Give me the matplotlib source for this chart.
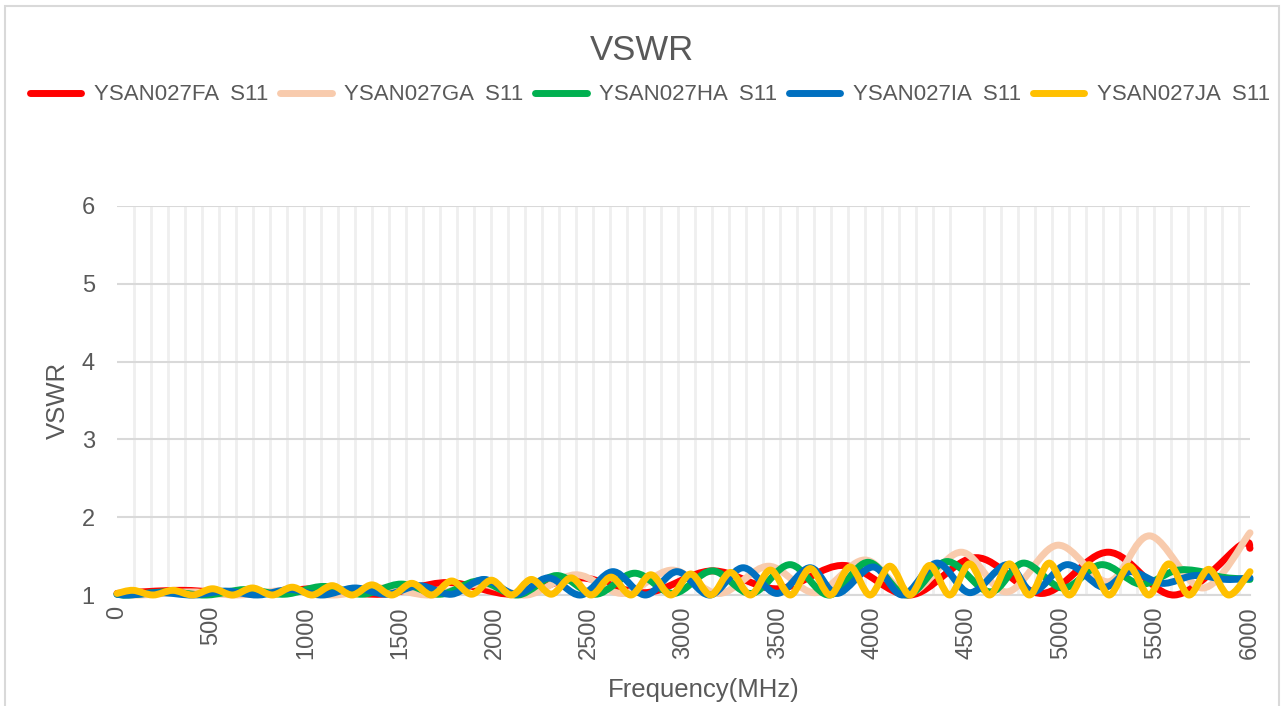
import matplotlib
matplotlib.use("Agg")
import matplotlib.pyplot as plt
import numpy as np
from matplotlib.path import Path
from matplotlib.patches import PathPatch, Rectangle
from matplotlib.lines import Line2D

plt.rcParams['font.family'] = ['Liberation Sans', 'DejaVu Sans']

# series names and colours
names = ["YSAN027FA  S11", "YSAN027GA  S11", "YSAN027HA  S11", "YSAN027IA  S11", "YSAN027JA  S11"]
colors = ["#FF0000", "#F8CBAD", "#00B050", "#0070C0", "#FFC000"]

# red - YSAN027FA (peaks / troughs)
fa_f = [0, 350, 700, 1050, 1400, 1750, 2100, 2450, 2800, 3150, 3500, 3850, 4200, 4550, 4900, 5250, 5600, 5950, 6000]
fa_v = [1.02, 1.06, 1.01, 1.08, 1.01, 1.16, 1.01, 1.22, 1.03, 1.31, 1.08, 1.38, 1.00, 1.48, 1.02, 1.55, 1.00, 1.64, 1.60]

# peach - YSAN027GA
ga_f = [0, 130, 390, 640, 900, 1150, 1410, 1660, 1920, 2170, 2430, 2680, 2940, 3190, 3450, 3700, 3960, 4200,
        4470, 4713, 4980, 5250, 5470, 5751, 6000]
ga_v = [1.01, 1.00, 1.04, 1.00, 1.06, 1.00, 1.09, 1.00, 1.14, 1.00, 1.26, 1.02, 1.32, 1.02, 1.37, 1.03, 1.45, 1.03,
        1.55, 1.04, 1.64, 1.17, 1.76, 1.09, 1.80]

# green - YSAN027HA
ha_f = [0, 63, 269, 475, 681, 887, 1093, 1299, 1505, 1711, 1917, 2123, 2329, 2535, 2741, 2947, 3153, 3359,
        3565, 3771, 3977, 4183, 4395, 4623, 4800, 5010, 5214, 5418, 5600, 5720, 5850, 6000]
ha_v = [1.01, 1.00, 1.04, 1.00, 1.07, 1.01, 1.11, 1.01, 1.14, 1.01, 1.18, 1.00, 1.25, 1.01, 1.28, 1.02, 1.31, 1.02,
        1.39, 1.00, 1.42, 1.00, 1.43, 1.04, 1.41, 1.09, 1.39, 1.14, 1.31, 1.31, 1.23, 1.20]

# blue - YSAN027IA
ia_f = [0, 62, 233, 404, 575, 746, 917, 1088, 1259, 1430, 1601, 1772, 1943, 2114, 2285, 2456, 2627, 2798,
        2966, 3140, 3315, 3495, 3670, 3813, 4004, 4162, 4342, 4517, 4713, 4851, 5031, 5222, 5364, 5535,
        5706, 5877, 6000]
ia_v = [1.01, 1.00, 1.03, 1.00, 1.05, 1.00, 1.07, 1.00, 1.09, 1.01, 1.12, 1.01, 1.20, 1.01, 1.22, 1.00, 1.30, 1.00,
        1.30, 1.00, 1.35, 1.02, 1.35, 1.02, 1.36, 1.00, 1.41, 1.03, 1.39, 1.04, 1.39, 1.10, 1.30, 1.15,
        1.25, 1.20, 1.22]

# yellow - YSAN027JA
ja_f = [0, 85, 190, 295, 401, 506, 612, 717, 823, 928, 1034, 1139, 1245, 1350, 1456, 1561, 1667, 1772, 1878,
        1983, 2089, 2194, 2300, 2405, 2511, 2616, 2722, 2827, 2933, 3038, 3144, 3249, 3355, 3460, 3566, 3671,
        3777, 3882, 3988, 4093, 4199, 4304, 4410, 4515, 4621, 4726, 4832, 4937, 5043, 5148, 5254, 5359, 5465,
        5570, 5676, 5781, 5887, 6000]
ja_v = [1.02, 1.06, 1.00, 1.06, 1.00, 1.08, 1.00, 1.09, 1.00, 1.10, 1.00, 1.12, 1.00, 1.13, 1.00, 1.15, 1.00, 1.18, 1.01,
        1.19, 1.00, 1.20, 1.01, 1.22, 1.00, 1.23, 1.00, 1.26, 1.00, 1.27, 1.00, 1.29, 1.00, 1.32, 1.00, 1.34,
        1.00, 1.36, 1.00, 1.37, 1.00, 1.38, 1.00, 1.40, 1.00, 1.40, 1.00, 1.41, 1.00, 1.39, 1.00, 1.37, 1.00,
        1.40, 1.00, 1.33, 1.00, 1.30]

series = [(fa_f, fa_v), (ga_f, ga_v), (ha_f, ha_v), (ia_f, ia_v), (ja_f, ja_v)]

x_ticks = list(range(0, 6001, 500))
y_ticks = [1, 2, 3, 4, 5, 6]
text_col = "#595959"


def smooth_path(x, y):
    # excel style smoothed line: catmull-rom through the points as bezier curves
    pts = np.column_stack([x, y]).astype(float)
    n = len(pts)
    verts = [pts[0]]
    codes = [Path.MOVETO]
    for i in range(n - 1):
        p0 = pts[i - 1] if i > 0 else pts[i]
        p1 = pts[i]
        p2 = pts[i + 1]
        p3 = pts[i + 2] if i + 2 < n else pts[i + 1]
        verts += [p1 + (p2 - p0) / 6, p2 - (p3 - p1) / 6, p2]
        codes += [Path.CURVE4] * 3
    return Path(verts, codes)


fig = plt.figure(figsize=(12.84, 7.06), dpi=100)
fig.patches.append(Rectangle((5 / 1284, -0.05), 1274 / 1284, 1.05 - 6 / 706, transform=fig.transFigure,
                             fill=False, edgecolor="#d9d9d9", lw=1.5))

ax = fig.add_axes([117 / 1284, 1 - 595 / 706, 1133 / 1284, 389 / 706])
ax.set_xlim(0, 6000)
ax.set_ylim(1, 6)

for (f, v), c in zip(series, colors):
    ax.add_patch(PathPatch(smooth_path(f, v), fill=False, edgecolor=c, lw=5,
                           capstyle="round", joinstyle="round", clip_on=False, zorder=3))

ax.set_xticks(x_ticks)
ax.set_xticklabels([str(t) for t in x_ticks], rotation=90, va="top")
ax.set_yticks(y_ticks)
ax.set_xticks(np.arange(0, 6000, 90), minor=True)
ax.tick_params(axis="both", which="both", length=0, labelsize=17, labelcolor=text_col)
ax.tick_params(axis="x", pad=8)
ax.tick_params(axis="y", pad=16)
ax.grid(axis="x", which="minor", color="#efefef", lw=2)
ax.grid(axis="y", which="major", color="#d9d9d9", lw=1.5)
for s in ["top", "left", "right"]:
    ax.spines[s].set_visible(False)
ax.spines["bottom"].set_color("#d9d9d9")
ax.spines["bottom"].set_linewidth(1.5)
ax.set_axisbelow(True)

fig.text(0.5, 1 - 51 / 706, "VSWR", ha="center", va="center", fontsize=25, color=text_col)
fig.text(704 / 1284, 1 - 690 / 706, "Frequency(MHz)", ha="center", va="center", fontsize=18.5, color=text_col)
fig.text(58 / 1284, 1 - 400 / 706, "VSWR", ha="center", va="center", rotation=90, fontsize=18.5, color=text_col)

handles = [Line2D([], [], color=c, lw=5, solid_capstyle="round") for c in colors]
fig.legend(handles, names, loc="center", bbox_to_anchor=(650 / 1284, 1 - 95 / 706), ncol=5, frameon=False,
           fontsize=16, labelcolor=text_col, handlelength=2.3, handletextpad=0.55, columnspacing=0.56)

fig.savefig("out.png", dpi=100)
